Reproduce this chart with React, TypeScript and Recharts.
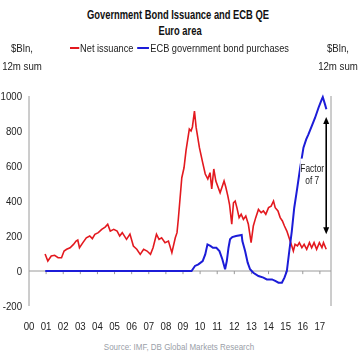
import { LineChart, Line, XAxis, YAxis, ReferenceLine } from 'recharts';

const years = [2000, 2001, 2002, 2003, 2004, 2005, 2006, 2007, 2008, 2009, 2010, 2011, 2012, 2013, 2014, 2015, 2016, 2017];
const yTicks = [-200, 0, 200, 400, 600, 800, 1000];

const netDates = [
  2000.94, 2001.1, 2001.3, 2001.5, 2001.7, 2001.9, 2002.05, 2002.2, 2002.4, 2002.6, 2002.75, 2002.85, 2002.95,
  2003.15, 2003.35, 2003.55, 2003.7, 2003.85, 2004.05, 2004.25, 2004.45, 2004.6, 2004.75, 2004.95, 2005.15,
  2005.3, 2005.45, 2005.7, 2005.9, 2006.1, 2006.3, 2006.5, 2006.7, 2006.9, 2007.1, 2007.25, 2007.45, 2007.6,
  2007.75, 2007.95, 2008.15, 2008.35, 2008.55, 2008.65, 2008.73, 2008.93, 2009.06, 2009.18, 2009.37, 2009.47,
  2009.55, 2009.67, 2009.77, 2009.96, 2010.15, 2010.3, 2010.45, 2010.58, 2010.68, 2010.8, 2010.92, 2011.17,
  2011.4, 2011.5, 2011.62, 2011.72, 2011.85, 2011.95, 2012.05, 2012.15, 2012.28, 2012.4, 2012.53, 2012.67,
  2012.82, 2012.98, 2013.11, 2013.25, 2013.41, 2013.57, 2013.7, 2013.84, 2014.0, 2014.15, 2014.29, 2014.39,
  2014.55, 2014.68, 2014.81, 2014.93, 2015.07, 2015.2, 2015.36, 2015.45, 2015.55, 2015.69, 2015.8, 2015.95,
  2016.08, 2016.23, 2016.39, 2016.52, 2016.66, 2016.81, 2016.97, 2017.12, 2017.21, 2017.37,
];
const netIssuance = [
  97, 57, 86, 90, 76, 76, 114, 124, 133, 152, 171, 177, 133,
  162, 190, 200, 185, 210, 219, 238, 251, 267, 228, 238, 228,
  200, 219, 181, 211, 143, 124, 95, 124, 114, 95, 133, 210, 181,
  190, 162, 171, 105, 190, 219, 300, 533, 590, 691, 811, 800,
  823, 914, 819, 705, 619, 554, 526, 562, 469, 583, 514, 447,
  514, 480, 429, 380, 267, 390, 400, 362, 305, 324, 295, 314,
  267, 162, 257, 305, 352, 333, 343, 324, 362, 371, 400, 362,
  343, 305, 286, 257, 228, 190, 143, 114, 152, 143, 162, 133,
  152, 124, 162, 133, 162, 124, 162, 133, 162, 124,
];

const ecbDates = [
  2000.95, 2009.5, 2009.7, 2009.9, 2010.15, 2010.3, 2010.43, 2010.6, 2010.75, 2010.95, 2011.13, 2011.3, 2011.46,
  2011.56, 2011.66, 2011.75, 2011.88, 2012.1, 2012.43, 2012.47, 2012.63, 2012.78, 2012.92, 2013.11, 2013.41,
  2013.7, 2013.9, 2014.2, 2014.39, 2014.58, 2014.78, 2014.93, 2015.07, 2015.22, 2015.36, 2015.5, 2015.65,
  2015.85, 2016.04, 2016.2, 2016.33, 2016.53, 2016.72, 2016.92, 2017.11, 2017.17, 2017.3, 2017.38,
];
const ecbPurchases = [
  0, 0, 29, 38, 57, 95, 152, 143, 133, 133, 114, 67, 10,
  57, 133, 181, 194, 200, 206, 171, 114, 48, 10, -10, -29,
  -38, -48, -48, -57, -67, -67, -38, 0, 120, 228, 360, 457,
  590, 705, 752, 781, 829, 876, 933, 981, 994, 952, 924,
];

// factor-of-7 arrow, in data units
const arrowYear = 2017.37;
const arrowFrom = 210;
const arrowTo = 880;

const netData = netDates.map((t, i) => ({ t, v: netIssuance[i] }));
const ecbData = ecbDates.map((t, i) => ({ t, v: ecbPurchases[i] }));

const RED = '#e3191f';
const BLUE = '#1c1cd8';
const GREY = '#9a9a9a';
const FONT = '"Liberation Sans", Arial, sans-serif';
const SQUEEZE = 0.84;

// axis labels drawn a bit condensed, like the Arial Narrow of the original
const NarrowTick = (props: any) => {
  const { x, y, payload, textAnchor, orientation, tickFormatter } = props;
  const label = tickFormatter ? tickFormatter(payload.value) : payload.value;
  const dy = orientation === 'bottom' ? '0.71em' : '0.35em';
  return (
    <g transform={`translate(${x},${y})`}>
      <text transform={`scale(${SQUEEZE},1)`} textAnchor={textAnchor} dy={dy} fontSize={11.5} fill='#222' fontFamily={FONT}>
        {label}
      </text>
    </g>
  );
};

const ArrowShape = (props: any) => {
  const { x1, y1, x2, y2 } = props;
  const top = Math.min(y1, y2);
  const bot = Math.max(y1, y2);
  const mid = (top + bot) / 2;
  return (
    <g>
      <line x1={x1} y1={top + 6} x2={x1} y2={bot - 6} stroke='#000' strokeWidth={1.6} />
      <path d={`M${x1 - 3},${top + 7} L${x1},${top} L${x1 + 3},${top + 7} Z`} fill='#000' />
      <path d={`M${x1 - 3},${bot - 7} L${x1},${bot} L${x1 + 3},${bot - 7} Z`} fill='#000' />
      <rect x={x1 - 26} y={mid - 17} width={24} height={32} fill='#fff' />
      <g transform={`translate(${x1 - 14},${mid})`}>
        <text transform={`scale(${SQUEEZE},1)`} y={-4} textAnchor='middle' fontSize={10} fill='#222' fontFamily={FONT}>Factor</text>
        <text transform={`scale(${SQUEEZE},1)`} y={8} textAnchor='middle' fontSize={10} fill='#222' fontFamily={FONT}>of 7</text>
      </g>
    </g>
  );
};

const App = () => {
  const unitLabel = { position: 'absolute' as const, width: 60, top: 39, fontSize: 11.5, color: '#222', lineHeight: '18px', textAlign: 'center' as const, whiteSpace: 'nowrap' as const, transform: `scaleX(${SQUEEZE})` };
  return (
    <div style={{ position: 'fixed', left: 0, top: 0, width: 360, height: 356, background: '#fff', fontFamily: FONT }}>
      <div style={{ position: 'absolute', left: 0, width: 356, top: 7, textAlign: 'center', fontWeight: 'bold', fontSize: 12, color: '#111', lineHeight: '16px' }}>
        <div style={{ transform: 'scaleX(0.78)' }}>Government Bond Issuance and ECB QE</div>
      </div>
      <div style={{ position: 'absolute', left: 0, width: 360, top: 23, textAlign: 'center', fontWeight: 'bold', fontSize: 12, color: '#111', lineHeight: '16px' }}>
        <div style={{ transform: 'scaleX(0.78)' }}>Euro area</div>
      </div>
      <div style={{ ...unitLabel, left: -8 }}>
        $Bln,<br />12m sum
      </div>
      <div style={{ ...unitLabel, left: 308 }}>
        $Bln,<br />12m sum
      </div>
      <div style={{ position: 'absolute', left: 70, top: 41, fontSize: 11, color: '#222', lineHeight: '14px', display: 'flex', alignItems: 'center', whiteSpace: 'nowrap', transform: `scaleX(${SQUEEZE})`, transformOrigin: 'left center' }}>
        <span style={{ display: 'inline-block', width: 11, height: 2, background: RED, marginRight: 1 }} />
        <span>Net issuance</span>
        <span style={{ display: 'inline-block', width: 14, height: 2, background: BLUE, marginLeft: 4, marginRight: 2 }} />
        <span>ECB government bond purchases</span>
      </div>
      <div style={{ position: 'absolute', left: 0, width: 358, top: 340, textAlign: 'center', fontSize: 9.5, color: '#9aa0a8', lineHeight: '14px' }}>
        <div style={{ transform: `scaleX(${SQUEEZE})` }}>Source: IMF, DB Global Markets Research</div>
      </div>
      <div style={{ position: 'absolute', left: 0, top: 0 }}>
        <LineChart width={360} height={356} margin={{ top: 96, right: 0, bottom: 0, left: 0 }}>
          <XAxis
            dataKey='t'
            type='number'
            domain={[2000, 2017.65]}
            ticks={years}
            interval={0}
            tickFormatter={(v: number) => String(v).slice(2)}
            axisLine={false}
            tickLine={false}
            tickMargin={10}
            height={50}
            tick={<NarrowTick />}
            allowDataOverflow
          />
          <YAxis
            yAxisId='left'
            domain={[-200, 1000]}
            ticks={yTicks}
            width={29}
            axisLine={{ stroke: GREY }}
            tickLine={false}
            tickMargin={1}
            tick={<NarrowTick />}
          />
          <YAxis
            yAxisId='right'
            orientation='right'
            domain={[-200, 1000]}
            ticks={yTicks}
            width={29}
            axisLine={{ stroke: GREY }}
            tickLine={{ stroke: GREY }}
            tickSize={4}
            tickMargin={2}
            tick={<NarrowTick />}
          />
          <ReferenceLine yAxisId='left' y={0} stroke={GREY} />
          {years.slice(1).map((yr) => (
            <ReferenceLine key={yr} yAxisId='left' segment={[{ x: yr, y: 0 }, { x: yr, y: -18 }]} stroke={GREY} />
          ))}
          <Line yAxisId='left' data={netData} dataKey='v' type='linear' stroke={RED} strokeWidth={1.6} dot={false} isAnimationActive={false} />
          <Line yAxisId='left' data={ecbData} dataKey='v' type='linear' stroke={BLUE} strokeWidth={2} dot={false} isAnimationActive={false} />
          <ReferenceLine
            yAxisId='left'
            segment={[{ x: arrowYear, y: arrowFrom }, { x: arrowYear, y: arrowTo }]}
            shape={ArrowShape}
          />
        </LineChart>
      </div>
    </div>
  );
};

export default App;
